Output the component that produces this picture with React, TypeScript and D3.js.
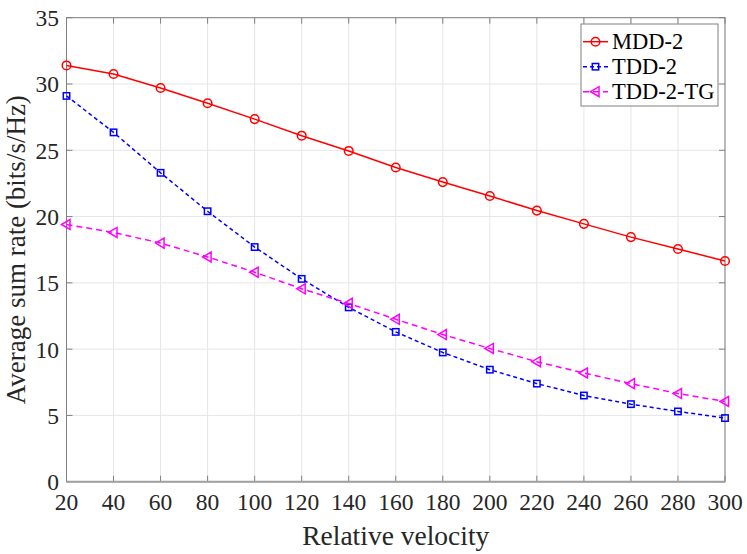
import React from "react";
import * as d3 from "d3";

const velocities = [20, 40, 60, 80, 100, 120, 140, 160, 180, 200, 220, 240, 260, 280, 300];
const mdd2 = [31.4, 30.75, 29.7, 28.55, 27.35, 26.1, 24.95, 23.7, 22.6, 21.55, 20.45, 19.45, 18.45, 17.55, 16.65];
const tdd2 = [29.1, 26.35, 23.3, 20.4, 17.7, 15.3, 13.15, 11.3, 9.75, 8.45, 7.4, 6.5, 5.85, 5.3, 4.8];
const tdd2tg = [19.4, 18.8, 18.0, 16.95, 15.8, 14.55, 13.45, 12.25, 11.1, 10.05, 9.05, 8.2, 7.4, 6.65, 6.05];
const xTicks = [20, 40, 60, 80, 100, 120, 140, 160, 180, 200, 220, 240, 260, 280, 300];
const yTicks = [0, 5, 10, 15, 20, 25, 30, 35];
const seriesNames = ["MDD-2", "TDD-2", "TDD-2-TG"];

const W = 747, H = 554;
const L = 66.5, R = 725, T = 17.7, B = 481.7;
const textStyle = { fontFamily: "'Liberation Serif', serif" };

export default function App() {
  const x = d3.scaleLinear().domain([20, 300]).range([L, R]);
  const y = d3.scaleLinear().domain([0, 35]).range([B, T]);
  const line = d3.line<number>().x((_, i) => x(velocities[i])).y((d) => y(d));

  const series = [
    { name: seriesNames[0], data: mdd2, color: "#ff0000", dash: undefined as string | undefined, marker: "circle" },
    { name: seriesNames[1], data: tdd2, color: "#0000ff", dash: "4,3", marker: "square" },
    { name: seriesNames[2], data: tdd2tg, color: "#ff00ff", dash: "6,4", marker: "triangle" },
  ];

  const marker = (type: string, cx: number, cy: number, color: string, key: string | number) => {
    if (type === "circle") return <circle key={key} cx={cx} cy={cy} r={4.3} fill="none" stroke={color} strokeWidth={1.5} />;
    if (type === "square") return <rect key={key} x={cx - 3.2} y={cy - 3.2} width={6.4} height={6.4} fill="none" stroke={color} strokeWidth={1.5} />;
    return <path key={key} d={`M${cx - 5},${cy} L${cx + 3.5},${cy - 5} L${cx + 3.5},${cy + 5} Z`} fill="none" stroke={color} strokeWidth={1.5} />;
  };

  const legX = 581, legY = 24, legW = 137, legH = 82;
  const rowY = [41.7, 66.7, 91.7];

  return (
    <svg width={W} height={H} style={{ position: "absolute", left: 0, top: 0, background: "#fff" }}>
      <rect x={0} y={0} width={W} height={H} fill="#fff" />
      {xTicks.map((t) => (
        <line key={"gx" + t} x1={x(t)} x2={x(t)} y1={T} y2={B} stroke="#e6e6e6" strokeWidth={1} />
      ))}
      {yTicks.map((t) => (
        <line key={"gy" + t} x1={L} x2={R} y1={y(t)} y2={y(t)} stroke="#e6e6e6" strokeWidth={1} />
      ))}
      {xTicks.map((t) => (
        <g key={"tx" + t}>
          <line x1={x(t)} x2={x(t)} y1={B} y2={B - 6} stroke="#808080" />
          <line x1={x(t)} x2={x(t)} y1={T} y2={T + 6} stroke="#808080" />
          <text x={x(t)} y={509.5} textAnchor="middle" fontSize={23.5} fill="#262626" style={textStyle}>{t}</text>
        </g>
      ))}
      {yTicks.map((t) => (
        <g key={"ty" + t}>
          <line x1={L} x2={L + 6} y1={y(t)} y2={y(t)} stroke="#808080" />
          <line x1={R} x2={R - 6} y1={y(t)} y2={y(t)} stroke="#808080" />
          <text x={L - 7.5} y={y(t) + 8.5} textAnchor="end" fontSize={23.5} fill="#262626" style={textStyle}>{t}</text>
        </g>
      ))}
      <rect x={L} y={T} width={R - L} height={B - T} fill="none" stroke="#808080" strokeWidth={1} />
      <line x1={L} x2={R} y1={B} y2={B} stroke="#a0a0a0" strokeWidth={2} />
      {series.map((s) => (
        <g key={s.name}>
          <path d={line(s.data) || ""} fill="none" stroke={s.color} strokeWidth={1.5} strokeDasharray={s.dash} />
          {s.data.map((v, i) => marker(s.marker, x(velocities[i]), y(v), s.color, i))}
        </g>
      ))}
      <rect x={legX} y={legY} width={legW} height={legH} fill="#fff" stroke="#808080" strokeWidth={1} />
      {series.map((s, i) => (
        <g key={"leg" + s.name}>
          <line x1={583} x2={608} y1={rowY[i]} y2={rowY[i]} stroke={s.color} strokeWidth={1.5} strokeDasharray={s.dash} />
          {marker(s.marker, 595.5, rowY[i], s.color, "m" + i)}
          <text x={612} y={rowY[i] + 7.5} fontSize={22.5} fill="#000" style={textStyle}>{s.name}</text>
        </g>
      ))}
      <text x={(L + R) / 2} y={545} textAnchor="middle" fontSize={27.5} fill="#262626" style={textStyle}>Relative velocity</text>
      <text transform={`translate(25, ${(T + B) / 2}) rotate(-90)`} textAnchor="middle" fontSize={27} fill="#262626" style={textStyle}>Average sum rate (bits/s/Hz)</text>
    </svg>
  );
}
